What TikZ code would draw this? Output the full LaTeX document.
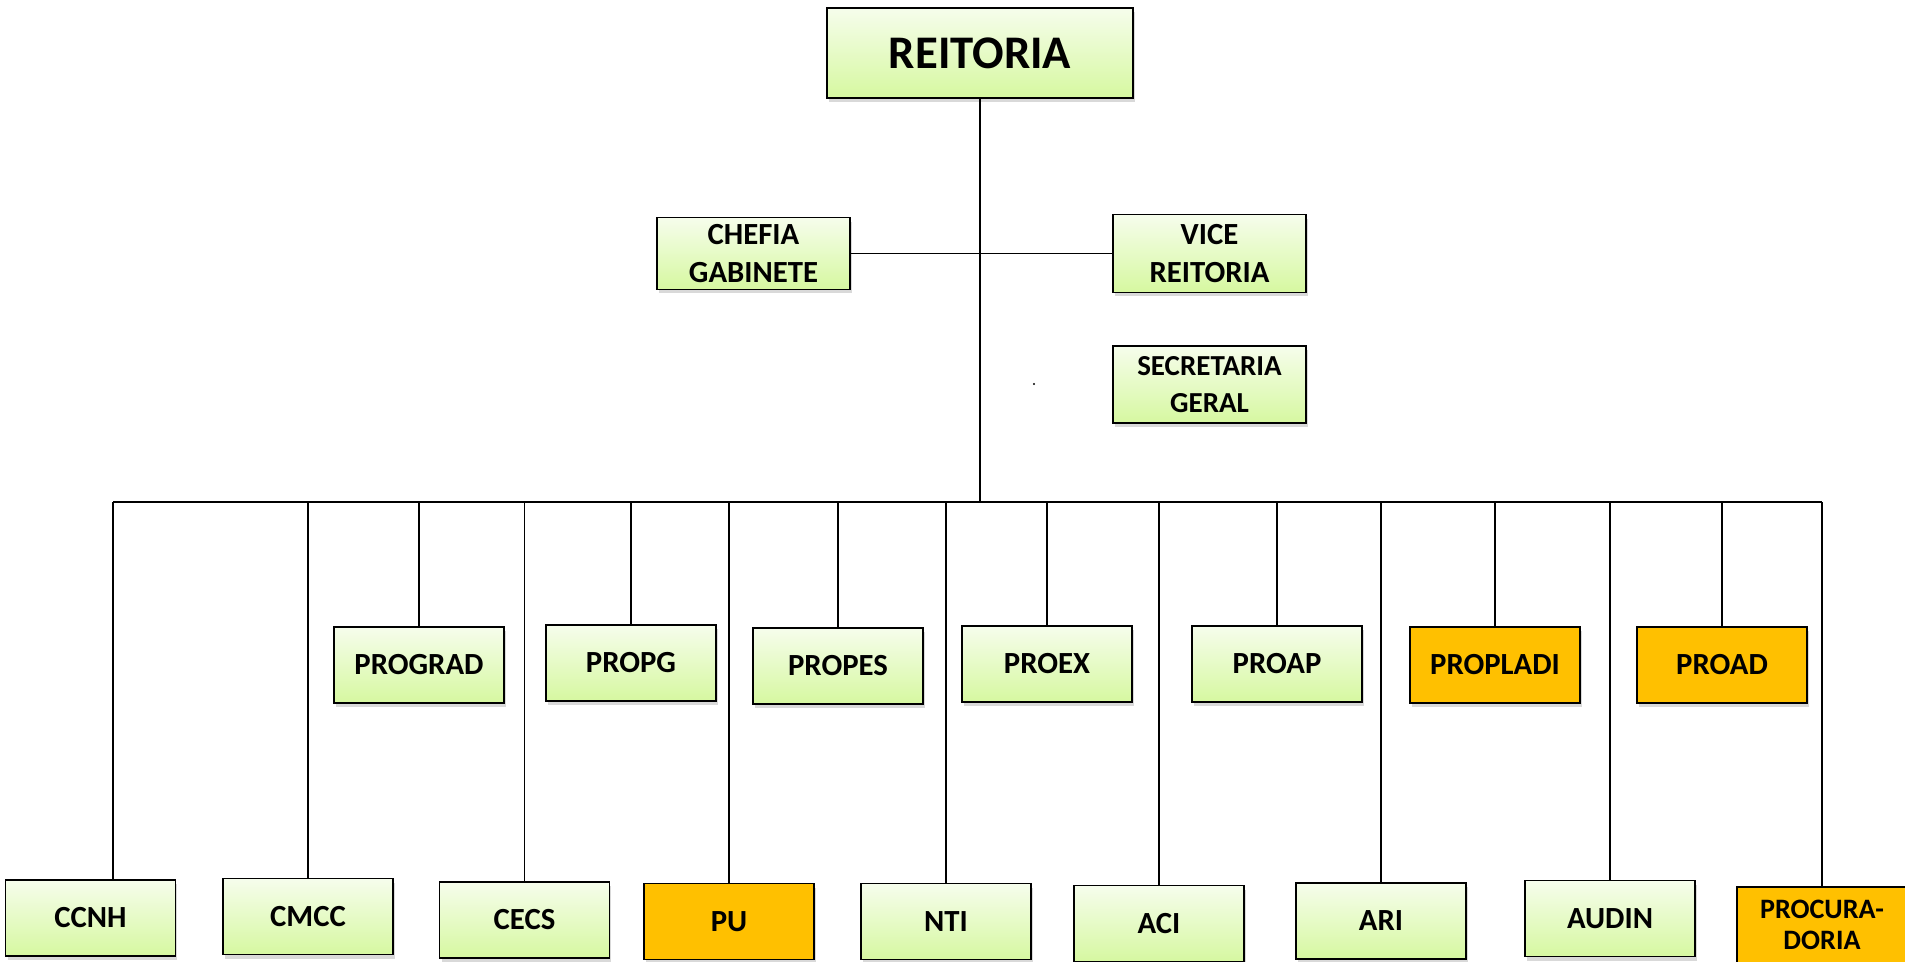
\documentclass[tikz,border=0pt]{standalone}
\usepackage{fontspec}
\setmainfont{Carlito}
\usetikzlibrary{shadows}
\definecolor{boxtop}{RGB}{246,253,236}
\definecolor{boxbottom}{RGB}{214,248,160}
\definecolor{boxorange}{RGB}{255,192,0}

\tikzset{
  unit/.style={draw=black, line width=1.1pt, inner sep=0pt, align=center,
    font=\fontsize{17.5}{22}\selectfont\bfseries,
    minimum width=3.4cm, minimum height=1.52cm,
    drop shadow={opacity=0.3, shadow xshift=0.04cm, shadow yshift=-0.08cm}},
  green unit/.style={unit, top color=boxtop, bottom color=boxbottom},
  orange unit/.style={unit, fill=boxorange},
  link/.style={line width=1pt}
}

\begin{document}
\begin{tikzpicture}[x=0.02cm, y=-0.02cm]
\useasboundingbox (0,0) rectangle (1905,962);

% top of the chart
\node[green unit, minimum width=6.12cm, minimum height=1.8cm,
  font=\fontsize{26.6}{30}\selectfont\bfseries] (reitoria) at (980,53) {REITORIA};
\node[green unit, minimum width=3.86cm, minimum height=1.44cm] (chefia) at (753.5,253.5) {CHEFIA\\GABINETE};
\node[green unit, minimum width=3.86cm, minimum height=1.56cm] (vice) at (1209.5,253.5) {VICE\\REITORIA};
\node[green unit, minimum width=3.86cm, minimum height=1.54cm,
  font=\fontsize{16.5}{20.7}\selectfont\bfseries] (secretaria) at (1209.5,384.5) {SECRETARIA\\GERAL};
\fill (1034,384) circle (0.7pt);

% pro-reitorias
\node[green unit] (prograd) at (419,665) {PROGRAD};
\node[green unit] (propg) at (631,663) {PROPG};
\node[green unit] (propes) at (838,666) {PROPES};
\node[green unit] (proex) at (1047,664) {PROEX};
\node[green unit] (proap) at (1277,664) {PROAP};
\node[orange unit] (propladi) at (1495,665) {PROPLADI};
\node[orange unit] (proad) at (1722,665) {PROAD};

% bottom row
\node[green unit] (ccnh) at (90.5,918) {CCNH};
\node[green unit] (cmcc) at (308,916.5) {CMCC};
\node[green unit] (cecs) at (524.5,920) {CECS};
\node[orange unit] (pu) at (729,921.5) {PU};
\node[green unit] (nti) at (946,921.5) {NTI};
\node[green unit] (aci) at (1159,923.5) {ACI};
\node[green unit] (ari) at (1381,921) {ARI};
\node[green unit] (audin) at (1610,918.5) {AUDIN};
\node[orange unit, font=\fontsize{16}{18}\selectfont\bfseries] (procuradoria) at (1822,925) {PROCURA-\\DORIA};

% lines
\coordinate (busL) at (113,502);
\coordinate (busR) at (1822,502);
\draw[link] (reitoria.south) -- (reitoria.south |- busL);
\draw[link] (chefia.east) -- (vice.west);
\draw[link] (busL) -- (busR);
\draw[link] (busL) -- (busL |- ccnh.north);
\foreach \n in {cmcc,prograd,cecs,propg,pu,propes,nti,proex,aci,proap,ari,propladi,audin,proad,procuradoria}
  \draw[link] (\n.north |- busL) -- (\n.north);
\end{tikzpicture}
\end{document}
